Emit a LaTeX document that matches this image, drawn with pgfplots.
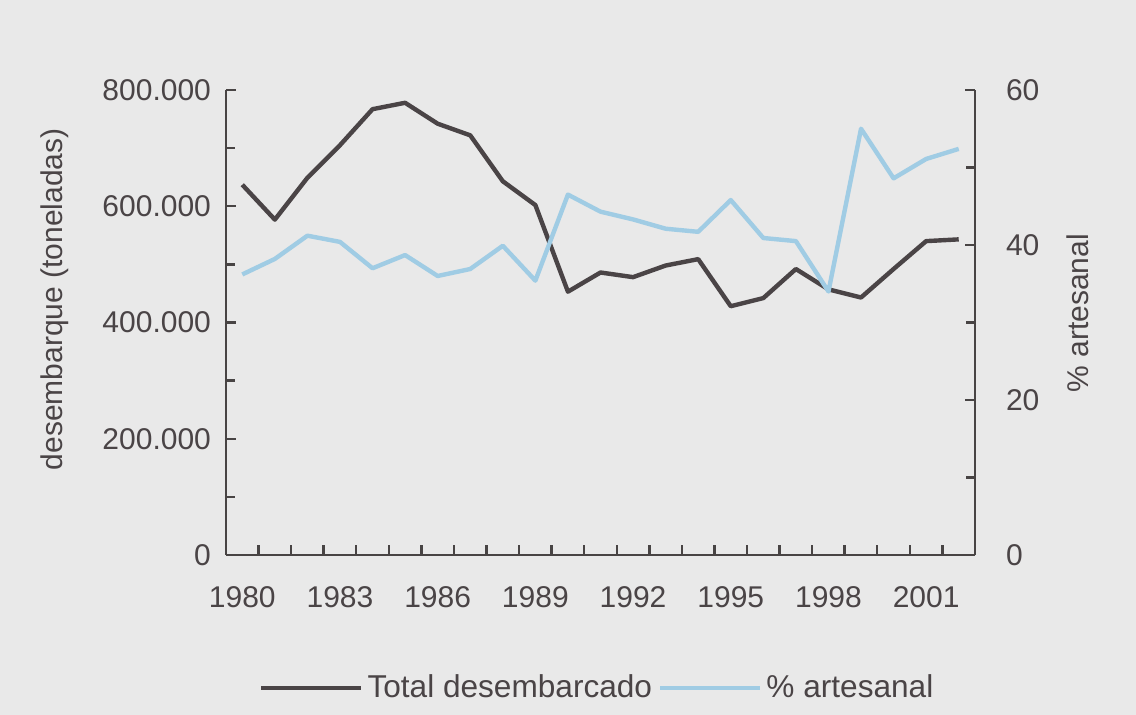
\documentclass[border=0pt]{standalone}
\usepackage{pgfplots}
\pgfplotsset{compat=1.18}
\usepackage{fontspec}
\setmainfont{Liberation Sans}
\definecolor{bg}{RGB}{233,233,233}
\definecolor{dk}{RGB}{74,68,70}
\definecolor{lb}{RGB}{160,204,228}
\definecolor{ax}{RGB}{72,68,68}
\begin{document}
\begin{tikzpicture}
\fill[bg] (0,0) rectangle (568pt,357.5pt);
\begin{axis}[
  at={(113pt,80pt)}, anchor=south west,
  scale only axis, width=374.5pt, height=232.5pt,
  xmin=1979.5, xmax=2002.5, ymin=0, ymax=800000,
  axis x line*=bottom, axis y line*=left,
  axis line style={ax, line width=1.2pt},
  every tick/.style={ax, line width=1.2pt},
  tick align=inside,
  major tick length=5pt, minor tick length=4.5pt,
  xtick={1980.5,1981.5,...,2001.5},
  xticklabels={},
  extra x ticks={1980,1983,1986,1989,1992,1995,1998,2001},
  extra x tick labels={1980,1983,1986,1989,1992,1995,1998,2001},
  extra x tick style={major tick length=0pt, xticklabel style={yshift=-12pt}},
  ytick={0,200000,400000,600000,800000},
  yticklabels={0,200.000,400.000,600.000,800.000},
  minor ytick={100000,300000,500000,700000},
  yticklabel style={xshift=-4pt},
  ticklabel style={font=\fontsize{15}{17}\selectfont, text=dk},
  scaled y ticks=false,
  ylabel={desembarque (toneladas)},
  ylabel style={at={(axis description cs:-0.228,0.55)}, anchor=center, font=\fontsize{15}{17}\selectfont, text=dk},
  clip=false,
]
\addplot[dk, line width=2.2pt, line join=round] coordinates {
(1980,637000) (1981,577000) (1982,649000) (1983,705000) (1984,767000) (1985,778000)
(1986,742000) (1987,722000) (1988,643000) (1989,602000) (1990,453000) (1991,486000)
(1992,478000) (1993,498000) (1994,509000) (1995,428000) (1996,442000) (1997,492000)
(1998,457000) (1999,443000) (2000,492000) (2001,540000) (2002,543000)
};
\end{axis}
\begin{axis}[
  at={(113pt,80pt)}, anchor=south west,
  scale only axis, width=374.5pt, height=232.5pt,
  xmin=1979.5, xmax=2002.5, ymin=0, ymax=60,
  axis x line=none, axis y line*=right,
  axis line style={ax, line width=1.2pt},
  every tick/.style={ax, line width=1.2pt},
  tick align=inside,
  major tick length=5pt, minor tick length=4.5pt,
  ytick={0,20,40,60},
  yticklabels={0,20,40,60},
  minor ytick={10,30,50},
  yticklabel style={xshift=12pt},
  ticklabel style={font=\fontsize{15}{17}\selectfont, text=dk},
  ylabel={\% artesanal},
  ylabel style={at={(axis description cs:1.1375,0.52)}, anchor=center, font=\fontsize{15}{17}\selectfont, text=dk},
  legend columns=2,
  legend style={draw=none, fill=none, at={(0.497,-0.286)}, anchor=center,
    font=\fontsize{15.8}{17}\selectfont, text=dk,
    /tikz/every even column/.append style={column sep=1pt}},
  legend image code/.code={\draw[#1] (0pt,0pt) -- (50pt,0pt);},
  clip=false,
]
\addlegendimage{dk, line width=2.2pt}
\addlegendentry{Total desembarcado}
\addplot[lb, line width=2.2pt, line join=round] coordinates {
(1980,36.2) (1981,38.2) (1982,41.2) (1983,40.4) (1984,37.0) (1985,38.7)
(1986,36.0) (1987,36.9) (1988,39.9) (1989,35.4) (1990,46.5) (1991,44.3)
(1992,43.3) (1993,42.1) (1994,41.7) (1995,45.8) (1996,40.9) (1997,40.5)
(1998,34.0) (1999,55.0) (2000,48.6) (2001,51.1) (2002,52.4)
};
\addlegendentry{\% artesanal}
\end{axis}
\end{tikzpicture}
\end{document}
